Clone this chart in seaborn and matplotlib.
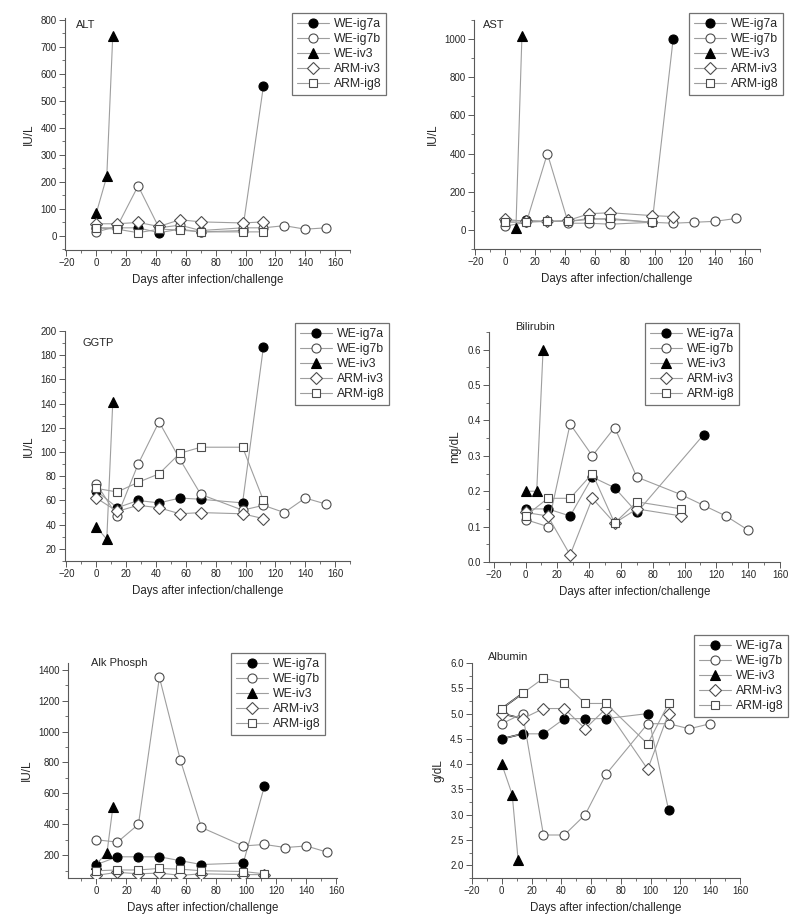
import matplotlib
matplotlib.use("Agg")
import matplotlib.pyplot as plt
import seaborn as sns
import pandas as pd
from matplotlib.ticker import MultipleLocator, FormatStrFormatter

sns.set_style("white")
plt.rcParams['font.family'] = ['Liberation Sans', 'DejaVu Sans']

# sampling days
days_full = [0, 14, 28, 42, 56, 70, 98, 112]
days_long = [0, 14, 28, 42, 56, 70, 98, 112, 126, 140, 154]
days_iv3 = [0, 7, 11]

# ALT (IU/L)
alt_ig7a = [30, 30, 30, 12, 25, 15, 20, 555]
alt_ig7b = [15, 35, 185, 30, 40, 20, 30, 30, 38, 25, 30]
alt_iv3 = [85, 220, 740]
alt_arm_iv3 = [45, 45, 50, 35, 60, 52, 48, 52]
alt_arm_ig8 = [30, 25, 12, 25, 22, 15, 15, 15]

# AST (IU/L)
ast_ig7a = [45, 50, 45, 45, 60, 55, 40, 1000]
ast_ig7b = [20, 40, 400, 35, 35, 30, 40, 35, 40, 45, 60]
ast_iv3_days = [7, 11]
ast_iv3 = [10, 1015]
ast_arm_iv3 = [55, 45, 45, 50, 85, 90, 75, 70]
ast_arm_ig8_days = [0, 14, 28, 42, 56, 70, 98]
ast_arm_ig8 = [40, 40, 45, 45, 55, 60, 40]

# GGTP (IU/L)
ggtp_ig7a = [68, 54, 60, 58, 62, 61, 58, 187]
ggtp_ig7b = [74, 47, 90, 125, 94, 65, 52, 56, 50, 62, 57]
ggtp_iv3 = [38, 28, 141]
ggtp_arm_iv3 = [62, 51, 56, 54, 49, 50, 49, 45]
ggtp_arm_ig8 = [70, 67, 75, 82, 99, 104, 104, 60]

# Bilirubin (mg/dL)
bili_ig7a_days = [0, 14, 28, 42, 56, 70, 112]
bili_ig7a = [0.15, 0.15, 0.13, 0.24, 0.21, 0.14, 0.36]
bili_ig7b_days = [0, 14, 28, 42, 56, 70, 98, 112, 126, 140]
bili_ig7b = [0.12, 0.10, 0.39, 0.30, 0.38, 0.24, 0.19, 0.16, 0.13, 0.09]
bili_iv3 = [0.20, 0.20, 0.60]
bili_arm_days = [0, 14, 28, 42, 56, 70, 98]
bili_arm_iv3 = [0.14, 0.13, 0.02, 0.18, 0.11, 0.15, 0.13]
bili_arm_ig8 = [0.13, 0.18, 0.18, 0.25, 0.11, 0.17, 0.15]

# Alk Phosph (IU/L)
alk_ig7a = [140, 190, 190, 190, 165, 140, 150, 645]
alk_ig7b = [300, 285, 400, 1350, 815, 380, 260, 270, 250, 260, 220]
alk_iv3 = [145, 215, 515]
alk_arm_iv3 = [70, 90, 80, 85, 70, 80, 75, 75]
alk_arm_ig8 = [100, 105, 105, 115, 110, 100, 95, 80]

# Albumin (g/dL)
alb_ig7a = [4.5, 4.6, 4.6, 4.9, 4.9, 4.9, 5.0, 3.1]
alb_ig7b_days = [0, 14, 28, 42, 56, 70, 98, 112, 126, 140]
alb_ig7b = [4.8, 5.0, 2.6, 2.6, 3.0, 3.8, 4.8, 4.8, 4.7, 4.8]
alb_iv3 = [4.0, 3.4, 2.1]
alb_arm_iv3 = [5.0, 4.9, 5.1, 5.1, 4.7, 5.1, 3.9, 5.0]
alb_arm_ig8 = [5.1, 5.4, 5.7, 5.6, 5.2, 5.2, 4.4, 5.2]

series_names = ["WE-ig7a", "WE-ig7b", "WE-iv3", "ARM-iv3", "ARM-ig8"]
# marker, face colour, size
markers = {"WE-ig7a": ("o", "black", 6.5), "WE-ig7b": ("o", "white", 6.5),
           "WE-iv3": ("^", "black", 6.5), "ARM-iv3": ("D", "white", 5.8),
           "ARM-ig8": ("s", "white", 5.8)}

panels = [
    dict(name="ALT", ylabel="IU/L", ylim=(-52, 806), major=100, minor=50,
         xlim=(-21, 170), rect=(65, 18, 350, 250), leg=(292, 13), txt=(0.04, 0.97),
         data=[(days_full, alt_ig7a), (days_long, alt_ig7b), (days_iv3, alt_iv3),
               (days_full, alt_arm_iv3), (days_full, alt_arm_ig8)]),
    dict(name="AST", ylabel="IU/L", ylim=(-100, 1100), major=200, minor=100,
         xlim=(-21, 170), rect=(474, 20, 760, 249), leg=(689, 13), txt=(0.03, 0.98),
         data=[(days_full, ast_ig7a), (days_long, ast_ig7b), (ast_iv3_days, ast_iv3),
               (days_full, ast_arm_iv3), (ast_arm_ig8_days, ast_arm_ig8)]),
    dict(name="GGTP", ylabel="IU/L", ylim=(10, 200), major=20, minor=10,
         xlim=(-21, 170), rect=(65, 331, 350, 561), leg=(295, 323), txt=(0.063, 0.95),
         data=[(days_full, ggtp_ig7a), (days_long, ggtp_ig7b), (days_iv3, ggtp_iv3),
               (days_full, ggtp_arm_iv3), (days_full, ggtp_arm_ig8)]),
    dict(name="Bilirubin", ylabel="mg/dL", ylim=(0, 0.65), major=0.1, minor=0.05,
         xlim=(-23, 160), rect=(489, 332, 780, 562), leg=(645, 323), txt=(0.09, 1.02),
         data=[(bili_ig7a_days, bili_ig7a), (bili_ig7b_days, bili_ig7b), (days_iv3, bili_iv3),
               (bili_arm_days, bili_arm_iv3), (bili_arm_days, bili_arm_ig8)]),
    dict(name="Alk Phosph", ylabel="IU/L", ylim=(53, 1443), major=200, minor=100,
         xlim=(-19, 160.5), rect=(68, 663, 337, 878), leg=(231, 653), txt=(0.085, 1.0),
         data=[(days_full, alk_ig7a), (days_long, alk_ig7b), (days_iv3, alk_iv3),
               (days_full, alk_arm_iv3), (days_full, alk_arm_ig8)]),
    dict(name="Albumin", ylabel="g/dL", ylim=(1.75, 6.0), major=0.5, minor=0.25,
         xlim=(-20, 160), rect=(472, 663, 740, 878), leg=(694, 635), txt=(0.06, 1.03),
         data=[(days_full, alb_ig7a), (alb_ig7b_days, alb_ig7b), (days_iv3, alb_iv3),
               (days_full, alb_arm_iv3), (days_full, alb_arm_ig8)]),
]

W, H = 800, 922
fig = plt.figure(figsize=(W / 100, H / 100), dpi=100)

for p in panels:
    l, t, r, b = p["rect"]
    ax = fig.add_axes([l / W, 1 - b / H, (r - l) / W, (b - t) / H])
    for name, (xs, ys) in zip(series_names, p["data"]):
        mk, face, ms = markers[name]
        df = pd.DataFrame({"day": xs, "val": ys})
        sns.lineplot(data=df, x="day", y="val", ax=ax, color="0.62", lw=0.8,
                     marker=mk, markersize=ms, markerfacecolor=face,
                     markeredgecolor="black" if face == "black" else "0.3",
                     markeredgewidth=0.8, label=name, sort=False, zorder=3)
    if p["name"] == "Albumin":
        # first segments drawn dark in the original
        for xs, ys in [(days_full, alb_ig7a), (days_full, alb_arm_iv3), (days_full, alb_arm_ig8)]:
            ax.plot(xs[:2], ys[:2], color="black", lw=1.2, zorder=2)
    ax.set_xlim(*p["xlim"])
    ax.set_ylim(*p["ylim"])
    ax.xaxis.set_major_locator(MultipleLocator(20))
    ax.xaxis.set_minor_locator(MultipleLocator(10))
    ax.yaxis.set_major_locator(MultipleLocator(p["major"]))
    ax.yaxis.set_minor_locator(MultipleLocator(p["minor"]))
    if p["name"] in ("Bilirubin", "Albumin"):
        ax.yaxis.set_major_formatter(FormatStrFormatter("%.1f"))
    for s in ["top", "right"]:
        ax.spines[s].set_visible(False)
    for s in ["left", "bottom"]:
        ax.spines[s].set_color("0.35")
        ax.spines[s].set_linewidth(0.8)
    ax.tick_params(which="major", direction="out", length=4, width=0.7,
                   color="0.35", labelsize=7, left=True, bottom=True, pad=2)
    ax.tick_params(which="minor", direction="out", length=2, width=0.6,
                   color="0.35", left=True, bottom=True)
    ax.set_xlabel("Days after infection/challenge", fontsize=8.3)
    ax.set_ylabel(p["ylabel"], fontsize=8.5)
    ax.text(p["txt"][0], p["txt"][1], p["name"], transform=ax.transAxes,
            fontsize=8, ha="left", va="center")
    lx, ly = p["leg"]
    leg = ax.legend(loc="upper left", bbox_to_anchor=(lx / W, 1 - ly / H),
                    bbox_transform=fig.transFigure, borderaxespad=0,
                    fontsize=8.8, frameon=True, fancybox=False, handlelength=2.6,
                    labelspacing=0.25, borderpad=0.4, handletextpad=0.4)
    leg.get_frame().set_edgecolor("0.3")
    leg.get_frame().set_linewidth(0.9)

fig.savefig("out.png", dpi=100)
